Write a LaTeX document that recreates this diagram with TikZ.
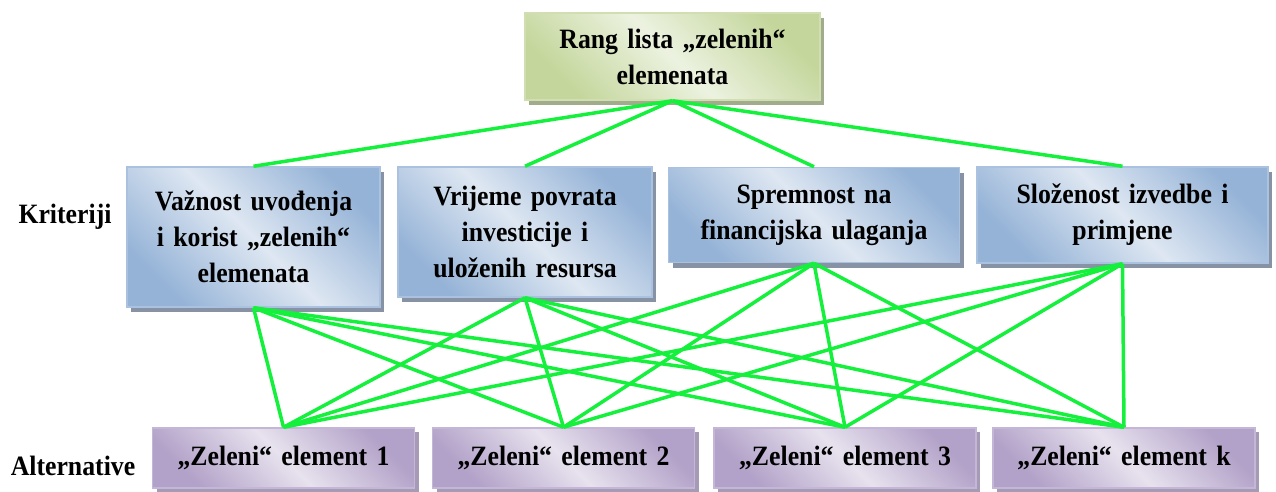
\documentclass[tikz,border=0pt]{standalone}
\usepackage{fontspec}
\setmainfont[FakeStretch=0.92]{Liberation Serif}
\usetikzlibrary{shadows}
\definecolor{bluedark}{RGB}{149,179,215}
\definecolor{bluelight}{RGB}{222,231,242}
\definecolor{bluebord}{RGB}{170,194,224}
\definecolor{blueshadow}{RGB}{135,146,165}
\definecolor{greendark}{RGB}{196,214,155}
\definecolor{greenlight}{RGB}{236,242,224}
\definecolor{greenbord}{RGB}{208,222,178}
\definecolor{greenshadow}{RGB}{160,172,140}
\definecolor{purpdark}{RGB}{178,161,200}
\definecolor{purplight}{RGB}{231,226,238}
\definecolor{purpbord}{RGB}{196,182,214}
\definecolor{purpshadow}{RGB}{165,155,180}
\definecolor{linkgreen}{RGB}{20,240,60}
\tikzset{
  basebox/.style={draw, line width=1.5pt, inner sep=0pt, align=center,
    font=\bfseries\fontsize{28}{36}\selectfont},
  topbox/.style={basebox, draw=greenbord, top color=greendark, bottom color=greendark,
    middle color=greenlight, shading angle=-45,
    drop shadow={shadow xshift=4pt, shadow yshift=-5pt, fill=greenshadow, opacity=1}},
  critbox/.style={basebox, draw=bluebord, top color=bluedark, bottom color=bluedark,
    middle color=bluelight, shading angle=-45,
    drop shadow={shadow xshift=4pt, shadow yshift=-5pt, fill=blueshadow, opacity=1}},
  altbox/.style={basebox, draw=purpbord, top color=purpdark, bottom color=purpdark,
    middle color=purplight, shading angle=-45,
    drop shadow={shadow xshift=4pt, shadow yshift=-4pt, fill=purpshadow, opacity=1}},
  sidelabel/.style={font=\bfseries\fontsize{28}{36}\selectfont, inner sep=0pt},
  link/.style={draw=linkgreen, line width=3.5pt}
}
\begin{document}
\begin{tikzpicture}[x=1pt,y=-1pt]
\useasboundingbox (0,0) rectangle (1276,491);
% top
\node[topbox, minimum width=295pt, minimum height=87pt, text width=285pt] (t) at (672.5,56.5)
  {Rang lista „zelenih“\\elemenata};
% criteria
\node[critbox, minimum width=253pt, minimum height=140pt, text width=243pt] (c1) at (253.5,237)
  {Važnost uvođenja\\i korist „zelenih“\\elemenata};
\node[critbox, minimum width=254pt, minimum height=130pt, text width=244pt] (c2) at (525,232)
  {Vrijeme povrata\\investicije i\\uloženih resursa};
\node[critbox, minimum width=291pt, minimum height=95pt, text width=281pt] (c3) at (814,215)
  {Spremnost na\\financijska ulaganja};
\node[critbox, minimum width=291pt, minimum height=96pt, text width=281pt] (c4) at (1122.5,215)
  {Složenost izvedbe i\\primjene};
% alternatives
\node[altbox, minimum width=262pt, minimum height=60pt, text width=252pt] (a1) at (283.5,458)
  {„Zeleni“ element 1};
\node[altbox, minimum width=262pt, minimum height=60pt, text width=252pt] (a2) at (563.5,458)
  {„Zeleni“ element 2};
\node[altbox, minimum width=262pt, minimum height=60pt, text width=252pt] (a3) at (845,458)
  {„Zeleni“ element 3};
\node[altbox, minimum width=262pt, minimum height=60pt, text width=252pt] (a4) at (1124,458)
  {„Zeleni“ element k};
% side labels
\node[sidelabel] (lk) at (65,217) {Kriteriji};
\node[sidelabel] (la) at (73,466) {Alternative};
% links
\foreach \c in {c1,c2,c3,c4} {
  \draw[link] (t.south) -- (\c.north);
}
\foreach \c in {c1,c2,c3,c4} {
  \foreach \a in {a1,a2,a3,a4} {
    \draw[link] (\c.south) -- (\a.north);
  }
}
\end{tikzpicture}
\end{document}
